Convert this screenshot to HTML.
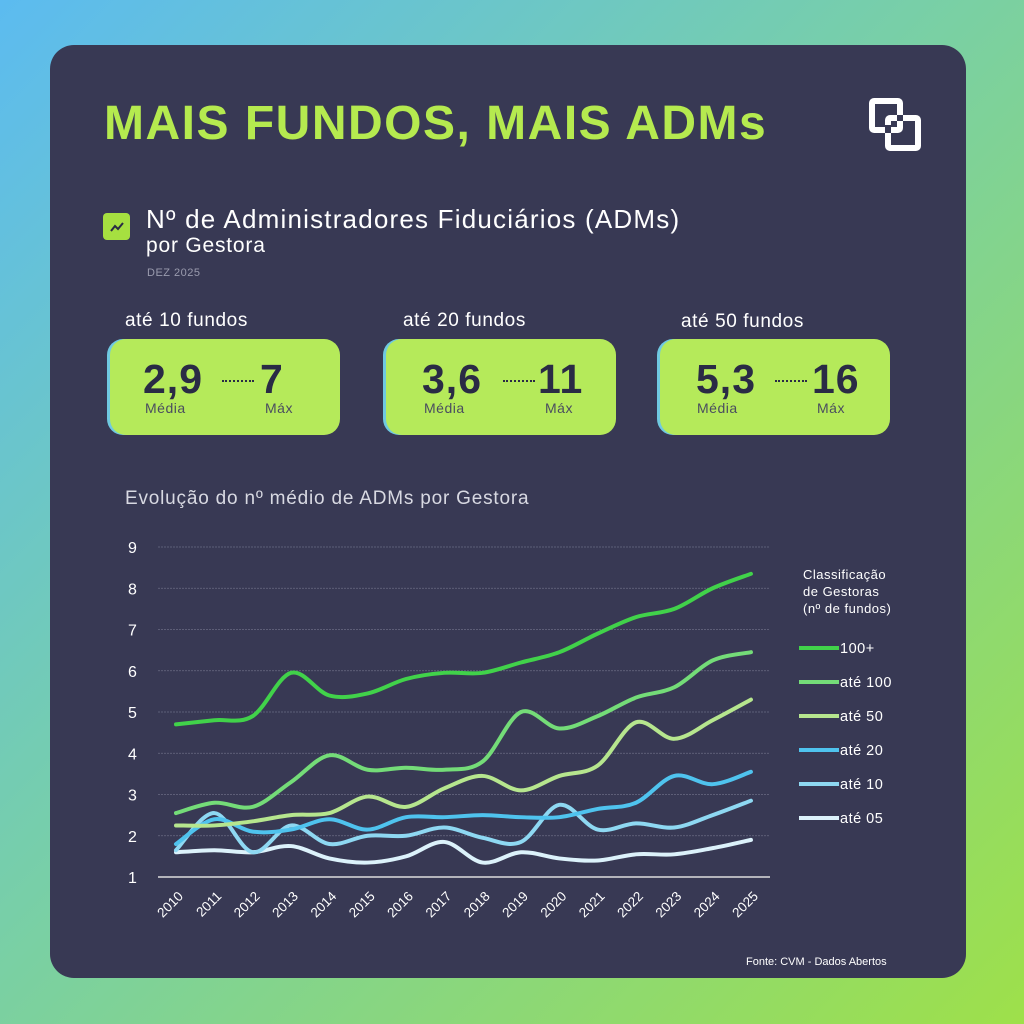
<!DOCTYPE html>
<html><head><meta charset="utf-8"><style>
html,body{margin:0;padding:0;width:1024px;height:1024px;overflow:hidden}
body{background:linear-gradient(135deg,#5cbbf0 0%,#78cfa8 45%,#9ee04a 100%);font-family:"Liberation Sans",sans-serif;position:relative}
.card{position:absolute;left:50px;top:45px;width:916px;height:933px;background:#383954;border-radius:24px}
.t{position:absolute;white-space:nowrap}
.box{position:absolute;top:339px;width:230px;height:96px;background:#b5ea5a;border-radius:16px;box-shadow:-3px 0 0 #6fc9e0}
.big{position:absolute;top:17px;font-weight:bold;font-size:41px;color:#2a2b45;letter-spacing:1px}
.sm{position:absolute;top:61px;font-size:14px;color:#4a4d60;letter-spacing:0.5px}
.dots{position:absolute;top:41px;width:32px;border-top:2px dotted #2a2b45}
</style></head><body>
<div class="card"></div>
<div class="t" style="left:104px;top:96px;font-size:48px;font-weight:bold;color:#b5ea4f;letter-spacing:1.5px">MAIS FUNDOS, MAIS ADMs</div>
<svg style="position:absolute;left:860px;top:92px" width="70" height="70" viewBox="0 0 70 70">
<rect x="12" y="9" width="28" height="29" rx="2" fill="none" stroke="#fff" stroke-width="6"/>
<rect x="28" y="26" width="30" height="30" rx="2" fill="none" stroke="#fff" stroke-width="6"/>
<rect x="25" y="33" width="6" height="8" fill="#383954"/>
<rect x="37" y="23" width="6" height="6" fill="#383954"/>
</svg>
<div style="position:absolute;left:103px;top:213px;width:27px;height:27px;background:#a6e040;border-radius:4px"></div>
<svg style="position:absolute;left:103px;top:213px" width="27" height="27"><polyline points="8,18 12,13 15,16 20,10" fill="none" stroke="#2a2b45" stroke-width="2"/></svg>
<div class="t" style="left:146px;top:204px;font-size:26px;color:#fff;letter-spacing:1.2px">Nº de Administradores Fiduciários (ADMs)</div>
<div class="t" style="left:146px;top:234px;font-size:21px;color:#fff;letter-spacing:0.8px">por Gestora</div>
<div class="t" style="left:147px;top:267px;font-size:11px;color:#9a9bae;letter-spacing:0.5px">DEZ 2025</div>
<div class="t" style="left:125px;top:310px;font-size:19px;color:#fff;letter-spacing:0.6px">até 10 fundos</div>
<div class="t" style="left:403px;top:310px;font-size:19px;color:#fff;letter-spacing:0.6px">até 20 fundos</div>
<div class="t" style="left:681px;top:311px;font-size:19px;color:#fff;letter-spacing:0.6px">até 50 fundos</div>
<div class="box" style="left:110px"><div class="big" style="left:33px">2,9</div><div class="dots" style="left:112px"></div><div class="big" style="left:150px">7</div><div class="sm" style="left:35px">Média</div><div class="sm" style="left:155px">Máx</div></div>
<div class="box" style="left:386px"><div class="big" style="left:36px">3,6</div><div class="dots" style="left:117px"></div><div class="big" style="left:152px">11</div><div class="sm" style="left:38px">Média</div><div class="sm" style="left:159px">Máx</div></div>
<div class="box" style="left:660px"><div class="big" style="left:36px">5,3</div><div class="dots" style="left:115px"></div><div class="big" style="left:152px">16</div><div class="sm" style="left:37px">Média</div><div class="sm" style="left:157px">Máx</div></div>
<div class="t" style="left:125px;top:488px;font-size:19px;color:#d8d9e2;letter-spacing:0.8px">Evolução do nº médio de ADMs por Gestora</div>
<svg id="ch" style="position:absolute;left:0;top:0" width="1024" height="1024" font-family="Liberation Sans, sans-serif"></svg>
<div class="t" style="left:803px;top:566px;font-size:13px;color:#fff;line-height:17px;letter-spacing:0.5px">Classificação<br>de Gestoras<br>(nº de fundos)</div>
<div class="t" style="left:746px;top:956px;font-size:11px;color:#fff">Fonte: CVM - Dados Abertos</div>
<script>
var s='',x0=176,dx=38.33,y=v=>877-(v-1)*41.25;
for(var i=1;i<=9;i++){var yy=y(i);s+='<line x1="158" x2="770" y1="'+yy+'" y2="'+yy+'" stroke="'+(i==1?'#ddd':'#6a6b82')+'" stroke-width="'+(i==1?1.5:0.8)+'" '+(i==1?'':'stroke-dasharray="2,1"')+'/>';
s+='<text x="128" y="'+(yy+6)+'" fill="#fff" font-size="16">'+i+'</text>';}
for(var k=0;k<16;k++){var xx=x0+k*dx;s+='<text transform="translate('+(xx+8)+',897) rotate(-45)" text-anchor="end" fill="#fff" font-size="13.5">'+(2010+k)+'</text>';}
var D=[
['#41d24a',[4.7,4.8,4.9,5.95,5.4,5.45,5.8,5.95,5.95,6.2,6.45,6.9,7.3,7.5,8.0,8.35],'100+'],
['#74dc78',[2.55,2.8,2.7,3.3,3.95,3.6,3.65,3.6,3.8,5.0,4.6,4.9,5.35,5.6,6.25,6.45],'até 100'],
['#b6e68e',[2.25,2.25,2.35,2.5,2.55,2.95,2.7,3.15,3.45,3.1,3.45,3.7,4.75,4.35,4.8,5.3],'até 50'],
['#4fc3ee',[1.8,2.4,2.1,2.15,2.4,2.15,2.45,2.45,2.5,2.45,2.45,2.65,2.8,3.45,3.25,3.55],'até 20'],
['#8ed8f2',[1.65,2.55,1.6,2.25,1.8,2.0,2.0,2.2,1.95,1.85,2.75,2.15,2.3,2.2,2.5,2.85],'até 10'],
['#dcf2fb',[1.6,1.65,1.6,1.75,1.45,1.35,1.5,1.85,1.35,1.6,1.45,1.4,1.55,1.55,1.7,1.9],'até 05']];
D.slice().reverse().forEach(function(d){var p=d[1].map((v,i)=>[x0+i*dx,y(v)]);var str='M'+p[0];
for(var i=0;i<p.length-1;i++){var a=p[Math.max(i-1,0)],b=p[i],c=p[i+1],e=p[Math.min(i+2,p.length-1)];
str+=' C'+(b[0]+(c[0]-a[0])/6)+','+(b[1]+(c[1]-a[1])/6)+' '+(c[0]-(e[0]-b[0])/6)+','+(c[1]-(e[1]-b[1])/6)+' '+c[0]+','+c[1];}
s+='<path d="'+str+'" fill="none" stroke="'+d[0]+'" stroke-width="4" stroke-linecap="round"/>';});
D.forEach(function(d,i){var yy=648+i*34;s+='<line x1="799" x2="839" y1="'+yy+'" y2="'+yy+'" stroke="'+d[0]+'" stroke-width="4"/><text x="840" y="'+(yy+5)+'" fill="#fff" font-size="14.5" letter-spacing="0.5">'+d[2]+'</text>';});
document.getElementById('ch').innerHTML=s;
</script>
</body></html>
